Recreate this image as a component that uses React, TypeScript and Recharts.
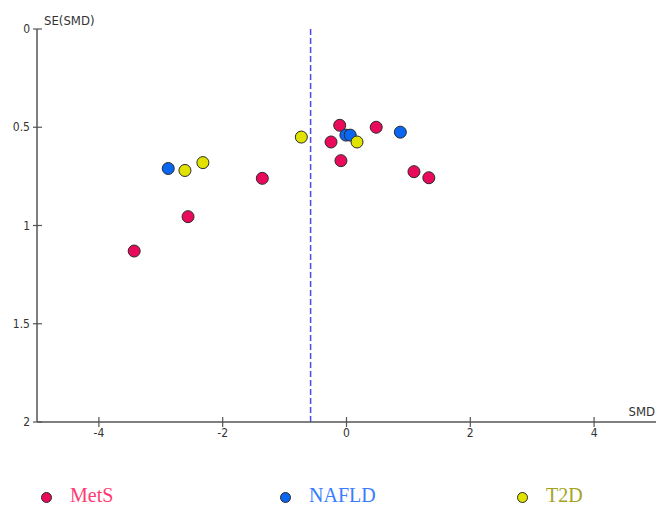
import React from "react";
import {
  ScatterChart,
  Scatter,
  XAxis,
  YAxis,
  ReferenceLine,
} from "recharts";

// SMD (x) and SE(SMD) (y) per study, grouped by condition
const metsSmd = [-3.43, -2.56, -1.36, -0.25, -0.11, -0.09, 0.48, 1.09, 1.33];
const metsSe = [1.13, 0.955, 0.76, 0.575, 0.49, 0.67, 0.5, 0.726, 0.757];
const nafldSmd = [-2.88, -0.01, 0.06, 0.87];
const nafldSe = [0.71, 0.54, 0.54, 0.525];
const t2dSmd = [-2.61, -2.32, -0.73, 0.17];
const t2dSe = [0.72, 0.68, 0.55, 0.575];

const xTicks = [-4, -2, 0, 2, 4];
const yTicks = [0, 0.5, 1, 1.5, 2];
const pooledSmd = -0.58;

const legendItems = ["MetS", "NAFLD", "T2D"];

const toPoints = (xs: number[], ys: number[]) => xs.map((x, i) => ({ x, y: ys[i] }));

const AXIS = "#555";
const TICK_FONT = "'Liberation Sans Narrow', 'DejaVu Sans Condensed', 'Liberation Sans', Arial, sans-serif";

const XTick = (props: any) => {
  const { x, y, payload } = props;
  return (
    <g>
      <line x1={x} x2={x} y1={y - 5} y2={y + 5} stroke={AXIS} strokeWidth={1.2} />
      <text x={x} y={y + 15} textAnchor="middle" fontSize={12} fill="#333" fontFamily={TICK_FONT}>
        {payload.value}
      </text>
    </g>
  );
};

const YTick = (props: any) => {
  const { x, y, payload } = props;
  return (
    <g>
      <line x1={x - 4} x2={x + 5} y1={y} y2={y} stroke={AXIS} strokeWidth={1.2} />
      <text x={x - 7} y={y + 4} textAnchor="end" fontSize={12} fill="#333" fontFamily={TICK_FONT}>
        {payload.value}
      </text>
    </g>
  );
};

const dot = (fill: string) => (props: any) => (
  <circle cx={props.cx} cy={props.cy} r={6} fill={fill} stroke="#2a2a2a" strokeWidth={1} />
);

const series = [
  { name: "MetS", data: toPoints(metsSmd, metsSe), fill: "#ea0a5c", text: "#ff3a74" },
  { name: "NAFLD", data: toPoints(nafldSmd, nafldSe), fill: "#0a66f0", text: "#3a7cff" },
  { name: "T2D", data: toPoints(t2dSmd, t2dSe), fill: "#e2e200", text: "#a3a322" },
];

const legendX = [46, 285, 522];

export default function App() {
  return (
    <div style={{ position: "absolute", left: 0, top: 0, width: 656, height: 508, background: "#fff" }}>
      <ScatterChart width={656} height={470} margin={{ top: 29, right: 0, left: 0, bottom: 18 }}>
        <XAxis
          type="number"
          dataKey="x"
          domain={[-5, 5]}
          ticks={xTicks}
          height={30}
          stroke={AXIS}
          strokeWidth={1.5}
          tickLine={false}
          tickSize={0}
          tickMargin={0}
          tick={<XTick />}
          interval={0}
          allowDataOverflow
          label={{
            content: (p: any) => (
              <text
                x={p.viewBox.x + p.viewBox.width - 1}
                y={p.viewBox.y - 6}
                textAnchor="end"
                fontSize={13}
                fill="#333"
                fontFamily={TICK_FONT}
              >
                SMD
              </text>
            ),
          }}
        />
        <YAxis
          type="number"
          dataKey="y"
          domain={[0, 2]}
          reversed
          ticks={yTicks}
          width={37}
          stroke={AXIS}
          strokeWidth={1.5}
          tickLine={false}
          tickSize={0}
          tickMargin={0}
          tick={<YTick />}
          interval={0}
          allowDataOverflow
          label={{
            content: (p: any) => (
              <text
                x={p.viewBox.x + p.viewBox.width + 7}
                y={p.viewBox.y - 4}
                fontSize={13}
                fill="#333"
                fontFamily={TICK_FONT}
              >
                SE(SMD)
              </text>
            ),
          }}
        />
        <ReferenceLine x={pooledSmd} stroke="#4a4ae6" strokeWidth={1.5} strokeDasharray="6 3" />
        {series.map((s) => (
          <Scatter
            key={s.name}
            name={s.name}
            data={s.data}
            fill={s.fill}
            shape={dot(s.fill)}
            isAnimationActive={false}
          />
        ))}
      </ScatterChart>
      {series.map((s, i) => (
        <div key={legendItems[i]}>
          <div
            style={{
              position: "absolute",
              left: legendX[i] - 5.5,
              top: 497 - 5.5,
              width: 11,
              height: 11,
              borderRadius: "50%",
              background: s.fill,
              boxSizing: "border-box",
              border: "1px solid #2a2a2a",
            }}
          />
          <div
            style={{
              position: "absolute",
              left: legendX[i] + 24,
              top: 484,
              fontFamily: "'Liberation Serif', 'Times New Roman', serif",
              fontSize: 20,
              lineHeight: "22px",
              color: s.text,
              whiteSpace: "nowrap",
            }}
          >
            {legendItems[i]}
          </div>
        </div>
      ))}
    </div>
  );
}
